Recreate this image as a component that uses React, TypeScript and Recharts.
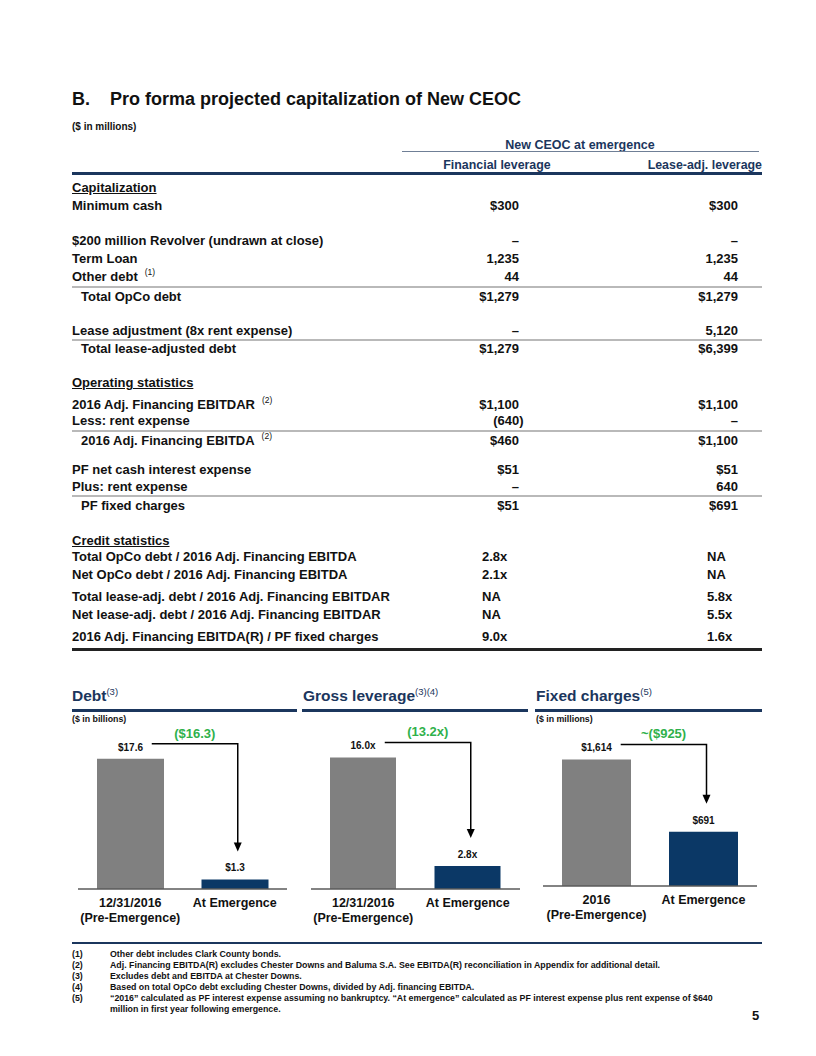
import React from 'react';
import { BarChart, Bar, XAxis, YAxis, Cell, LabelList, ReferenceLine } from 'recharts';

const FONT = '"Liberation Sans", Arial, Helvetica, sans-serif';
const NAVY = '#1b365d';
const BAR_NAVY = '#0b3866';
const BAR_GREY = '#808080';
const GREEN = '#2fb14b';
const TEXT = '#111111';

// ---------- table data ----------
const tableLabels = [
  'Capitalization',
  'Minimum cash',
  '$200 million Revolver (undrawn at close)',
  'Term Loan',
  'Other debt',
  'Total OpCo debt',
  'Lease adjustment (8x rent expense)',
  'Total lease-adjusted debt',
  'Operating statistics',
  '2016 Adj. Financing EBITDAR',
  'Less: rent expense',
  '2016 Adj. Financing EBITDA',
  'PF net cash interest expense',
  'Plus: rent expense',
  'PF fixed charges',
  'Credit statistics',
  'Total OpCo debt / 2016 Adj. Financing EBITDA',
  'Net OpCo debt / 2016 Adj. Financing EBITDA',
  'Total lease-adj. debt / 2016 Adj. Financing EBITDAR',
  'Net lease-adj. debt / 2016 Adj. Financing EBITDAR',
  '2016 Adj. Financing EBITDA(R) / PF fixed charges',
];
const financialValues = ['', '$300', '–', '1,235', '44', '$1,279', '–', '$1,279', '', '$1,100', '(640)', '$460', '$51', '–', '$51', '', '2.8x', '2.1x', 'NA', 'NA', '9.0x'];
const leaseValues = ['', '$300', '–', '1,235', '44', '$1,279', '5,120', '$6,399', '', '$1,100', '–', '$1,100', '$51', '640', '$691', '', 'NA', 'NA', '5.8x', '5.5x', '1.6x'];
const labelNotes = ['', '', '', '', '(1)', '', '', '', '', '(2)', '', '(2)', '', '', '', '', '', '', '', '', ''];
const rowKinds = ['section', 'item', 'item', 'item', 'item', 'total', 'item', 'total', 'section', 'item', 'item', 'total', 'item', 'item', 'total', 'section', 'ratio', 'ratio', 'ratio', 'ratio', 'ratio'];

// table layout (row centres, rules)
const rowCenterY = [188, 206, 241, 259, 277, 297, 331, 349, 383, 405, 421, 441, 470, 487, 506, 541, 557, 575, 597, 615, 637];
const ruleY = [287, 340, 431, 496];

// ---------- chart data ----------
const debtCategories = ['12/31/2016', 'At Emergence'];
const debtSubLabels = ['(Pre-Emergence)', ''];
const debtValues = [17.6, 1.3];
const debtValueLabels = ['$17.6', '$1.3'];
const debtChange = '($16.3)';

const leverageCategories = ['12/31/2016', 'At Emergence'];
const leverageSubLabels = ['(Pre-Emergence)', ''];
const leverageValues = [16.0, 2.8];
const leverageValueLabels = ['16.0x', '2.8x'];
const leverageChange = '(13.2x)';

const fixedCategories = ['2016', 'At Emergence'];
const fixedSubLabels = ['(Pre-Emergence)', ''];
const fixedValues = [1614, 691];
const fixedValueLabels = ['$1,614', '$691'];
const fixedChange = '~($925)';

// ---------- footnotes ----------
const footnoteNums = ['(1)', '(2)', '(3)', '(4)', '(5)', ''];
const footnoteTexts = [
  'Other debt includes Clark County bonds.',
  'Adj. Financing EBITDA(R) excludes Chester Downs and Baluma S.A. See EBITDA(R) reconciliation in Appendix for additional detail.',
  'Excludes debt and EBITDA at Chester Downs.',
  'Based on total OpCo debt excluding Chester Downs, divided by Adj. financing EBITDA.',
  '\u201C2016\u201D calculated as PF interest expense assuming no bankruptcy. \u201CAt emergence\u201D calculated as PF interest expense plus rent expense of $640',
  'million in first year following emergence.',
];

const abs = (left: number, top: number, extra: React.CSSProperties = {}): React.CSSProperties => ({
  position: 'absolute',
  left,
  top,
  ...extra,
});

type PanelProps = {
  left: number;
  top: number;
  width: number;
  height: number;
  barSize: number;
  categories: string[];
  subLabels: string[];
  values: number[];
  valueLabels: string[];
  change: string;
  yMax: number;
};

function Panel(props: PanelProps) {
  const { left, top, width, height, barSize, categories, subLabels, values, valueLabels, change, yMax } = props;
  const data = categories.map((c, i) => ({ cat: c, value: values[i], label: valueLabels[i] }));

  const renderTick = (p: any) => {
    const idx = categories.indexOf(p.payload.value);
    const sub = subLabels[idx];
    return (
      <g>
        <text x={p.x} y={p.y + 17.5} textAnchor="middle" fontFamily={FONT} fontWeight="bold" fontSize={12.5} fill={TEXT}>
          {p.payload.value}
        </text>
        {sub ? (
          <text x={p.x} y={p.y + 33} textAnchor="middle" fontFamily={FONT} fontWeight="bold" fontSize={12.5} fill={TEXT}>
            {sub}
          </text>
        ) : null}
      </g>
    );
  };

  const renderValue = (p: any) => {
    const vb = p.viewBox || {};
    const bx = p.x ?? vb.x;
    const bw = p.width ?? vb.width;
    const by = p.y ?? vb.y;
    return (
      <text x={bx + bw / 2} y={by - 8} textAnchor="middle" fontFamily={FONT} fontWeight="bold" fontSize={10} fill={TEXT}>
        {p.value}
      </text>
    );
  };

  const renderArrow = (p: any) => {
    const x1 = Number(p.x1);
    const y1 = Number(p.y1);
    const x2 = Number(p.x2);
    const y2 = Number(p.y2);
    const hy = y1 - 15;
    const sx = x1 + valueLabels[0].length * 2.7 + 8;
    const vx = x2 + 3;
    const tip = y2 - 28;
    return (
      <g>
        <path d={`M${sx},${hy}H${vx}V${tip - 8}`} stroke="#000" strokeWidth={1.5} fill="none" />
        <path d={`M${vx - 4},${tip - 9}L${vx + 4},${tip - 9}L${vx},${tip}Z`} fill="#000" />
        <text x={(sx + vx) / 2} y={hy - 6} textAnchor="middle" fontFamily={FONT} fontWeight="bold" fontSize={13} fill={GREEN}>
          {change}
        </text>
      </g>
    );
  };

  return (
    <div style={abs(left, top)}>
      <BarChart width={width} height={height} data={data} margin={{ top: 41, right: 0, bottom: 12, left: 0 }}>
        <XAxis
          dataKey="cat"
          height={40}
          axisLine={{ stroke: '#5a5a5a', strokeWidth: 1.5 }}
          tickLine={false}
          tickSize={0}
          tickMargin={0}
          interval={0}
          tick={renderTick}
        />
        <YAxis hide domain={[0, yMax]} allowDataOverflow />
        <Bar dataKey="value" barSize={barSize} isAnimationActive={false}>
          {data.map((d, i) => (
            <Cell key={d.cat} fill={i === 0 ? BAR_GREY : BAR_NAVY} />
          ))}
          <LabelList dataKey="label" content={renderValue} />
        </Bar>
        <ReferenceLine
          ifOverflow="visible"
          segment={[
            { x: categories[0], y: values[0] },
            { x: categories[1], y: values[1] },
          ]}
          shape={renderArrow}
        />
      </BarChart>
    </div>
  );
}

function Table() {
  return (
    <>
      {tableLabels.map((label, i) => {
        const kind = rowKinds[i];
        const top = rowCenterY[i] - 8;
        const indent = kind === 'total' ? 9 : 0;
        const v1 = financialValues[i];
        const v2 = leaseValues[i];
        const textStyle: React.CSSProperties = { fontSize: 13, fontWeight: 'bold', lineHeight: '16px', whiteSpace: 'nowrap', color: TEXT };
        return (
          <React.Fragment key={label}>
            <div style={abs(72 + indent, top, { ...textStyle, textDecoration: kind === 'section' ? 'underline' : 'none' })}>
              {label}
              {labelNotes[i] ? (
                <span style={{ fontSize: 8.5, position: 'relative', top: -6, marginLeft: 7, fontWeight: 'normal' }}>{labelNotes[i]}</span>
              ) : null}
            </div>
            {kind === 'ratio' ? (
              <>
                <div style={abs(482, top, textStyle)}>{v1}</div>
                <div style={abs(707, top, textStyle)}>{v2}</div>
              </>
            ) : (
              <>
                {v1 ? (
                  <div style={abs(519 - 100 + (v1.startsWith('(') ? 4.5 : 0), top, { ...textStyle, width: 100, textAlign: 'right' })}>{v1}</div>
                ) : null}
                {v2 ? (
                  <div style={abs(738 - 100 + (v2.startsWith('(') ? 4.5 : 0), top, { ...textStyle, width: 100, textAlign: 'right' })}>{v2}</div>
                ) : null}
              </>
            )}
          </React.Fragment>
        );
      })}
      {ruleY.map((y) => (
        <div key={y} style={abs(72, y - 1, { width: 690, height: 2, background: '#b9b9b9' })} />
      ))}
    </>
  );
}

export default function App() {
  const titleStyle: React.CSSProperties = { fontSize: 15.5, fontWeight: 'bold', color: NAVY, lineHeight: '18px', whiteSpace: 'nowrap' };
  const supStyle: React.CSSProperties = { fontSize: 9.5, position: 'relative', top: -6, fontWeight: 'normal' };
  const smallStyle: React.CSSProperties = { fontSize: 8.8, fontWeight: 'bold', lineHeight: '10px', color: TEXT, whiteSpace: 'nowrap' };
  return (
    <div style={{ position: 'absolute', left: 0, top: 0, width: 816, height: 1056, background: '#fff', fontFamily: FONT, color: TEXT }}>
      {/* Title */}
      <div style={abs(72, 89, { fontSize: 18, fontWeight: 'bold', lineHeight: '20px' })}>B.</div>
      <div style={abs(110, 89, { fontSize: 18, fontWeight: 'bold', lineHeight: '20px', whiteSpace: 'nowrap' })}>
        Pro forma projected capitalization of New CEOC
      </div>
      <div style={abs(72, 121, { fontSize: 10, fontWeight: 'bold', lineHeight: '12px' })}>($ in millions)</div>

      {/* Column headers */}
      <div style={abs(480, 138, { width: 200, textAlign: 'center', fontSize: 12.5, fontWeight: 'bold', color: NAVY, lineHeight: '14px' })}>
        New CEOC at emergence
      </div>
      <div style={abs(402, 151, { width: 357, height: 1, background: '#6f7f96' })} />
      <div style={abs(397, 158, { width: 200, textAlign: 'center', fontSize: 12.4, fontWeight: 'bold', color: NAVY, lineHeight: '14px' })}>
        Financial leverage
      </div>
      <div style={abs(562, 158, { width: 200, textAlign: 'right', fontSize: 12.4, fontWeight: 'bold', color: NAVY, lineHeight: '14px' })}>
        Lease-adj. leverage
      </div>
      <div style={abs(72, 172, { width: 690, height: 3, background: NAVY })} />

      <Table />
      <div style={abs(72, 648, { width: 690, height: 3, background: '#222' })} />

      {/* Chart headers */}
      <div style={abs(72, 687, titleStyle)}>
        Debt<span style={supStyle}>(3)</span>
      </div>
      <div style={abs(72, 709, { width: 225, height: 2.5, background: NAVY })} />
      <div style={abs(72, 714, smallStyle)}>($ in billions)</div>

      <div style={abs(303, 687, titleStyle)}>
        Gross leverage<span style={supStyle}>(3)(4)</span>
      </div>
      <div style={abs(302, 709, { width: 226, height: 2.5, background: NAVY })} />

      <div style={abs(536, 687, titleStyle)}>
        Fixed charges<span style={supStyle}>(5)</span>
      </div>
      <div style={abs(535, 709, { width: 227, height: 2.5, background: NAVY })} />
      <div style={abs(536, 714, smallStyle)}>($ in millions)</div>

      <Panel
        left={78}
        top={700}
        width={209}
        height={241}
        barSize={67}
        categories={debtCategories}
        subLabels={debtSubLabels}
        values={debtValues}
        valueLabels={debtValueLabels}
        change={debtChange}
        yMax={20}
      />
      <Panel
        left={311}
        top={700}
        width={209}
        height={241}
        barSize={66}
        categories={leverageCategories}
        subLabels={leverageSubLabels}
        values={leverageValues}
        valueLabels={leverageValueLabels}
        change={leverageChange}
        yMax={18}
      />
      <Panel
        left={543}
        top={700}
        width={214}
        height={238}
        barSize={69}
        categories={fixedCategories}
        subLabels={fixedSubLabels}
        values={fixedValues}
        valueLabels={fixedValueLabels}
        change={fixedChange}
        yMax={1850}
      />

      {/* Footnotes */}
      <div style={abs(72, 942, { width: 690, height: 2, background: NAVY })} />
      {footnoteTexts.map((t, i) => (
        <React.Fragment key={i}>
          {footnoteNums[i] ? <div style={abs(72, 949 + i * 11, smallStyle)}>{footnoteNums[i]}</div> : null}
          <div style={abs(110, 949 + i * 11, smallStyle)}>{t}</div>
        </React.Fragment>
      ))}
      <div style={abs(752, 1008, { fontSize: 13, fontWeight: 'bold', lineHeight: '16px' })}>5</div>
    </div>
  );
}
